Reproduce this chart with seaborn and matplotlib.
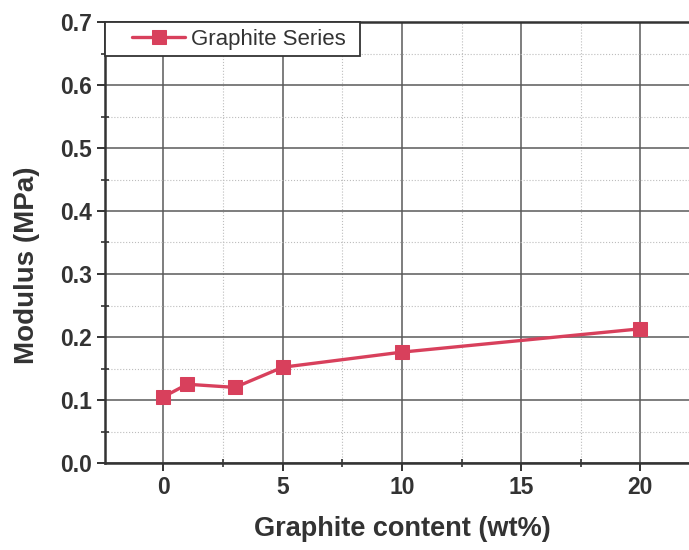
import matplotlib
matplotlib.use("Agg")
import matplotlib.pyplot as plt
from matplotlib.ticker import MultipleLocator
from matplotlib.patches import Rectangle
import seaborn as sns
import pandas as pd

# Measured modulus against graphite loading
graphite_wt = [0, 1, 3, 5, 10, 20]
modulus_mpa = [0.105, 0.125, 0.120, 0.152, 0.176, 0.213]
series_name = "Graphite Series"
y_tick_values = [0.0, 0.1, 0.2, 0.3, 0.4, 0.5, 0.6, 0.7]
y_tick_labels = ["0.0", "0.1", "0.2", "0.3", "0.4", "0.5", "0.6", "0.7"]

df = pd.DataFrame({"content": graphite_wt, "modulus": modulus_mpa})

sns.set_theme(style="white")
plt.rcParams["font.family"] = ["Liberation Sans", "DejaVu Sans"]

W, H = 689, 550
fig = plt.figure(figsize=(W / 100, H / 100), dpi=100)
# axes run slightly past the right edge of the canvas
ax_left, ax_right, ax_top, ax_bottom = 105, 700, 22, 463
ax = fig.add_axes([ax_left / W, 1 - ax_bottom / H,
                   (ax_right - ax_left) / W, (ax_bottom - ax_top) / H])

line_color = "#d8405c"
sns.lineplot(data=df, x="content", y="modulus", ax=ax, color=line_color,
             linewidth=2.4, marker="s", markersize=9.5, markeredgecolor=line_color,
             label=series_name, zorder=3)

ax.set_xlim(-2.45, 22.5)
ax.set_ylim(0.0, 0.7)
ax.xaxis.set_major_locator(MultipleLocator(5))
ax.xaxis.set_minor_locator(MultipleLocator(2.5))
ax.yaxis.set_minor_locator(MultipleLocator(0.05))
ax.set_yticks(y_tick_values)
ax.set_yticklabels(y_tick_labels)

ax.grid(which="major", color="#5a5a5a", linewidth=1.1, linestyle="-")
ax.grid(which="minor", color="#bdbdbd", linewidth=0.8, linestyle=":")
ax.set_axisbelow(True)

for s in ax.spines.values():
    s.set_color("#333333")
    s.set_linewidth(1.8)

ax.tick_params(which="major", direction="out", length=6, width=1.4, color="#333333",
               labelsize=16.5, labelcolor="#333333", left=True, bottom=True)
ax.tick_params(which="minor", direction="inout", length=6, width=1.2, color="#333333",
               left=True, bottom=True)
for lab in ax.get_xticklabels() + ax.get_yticklabels():
    lab.set_fontweight("bold")


def ax_x(px):
    return (px - ax_left) / (ax_right - ax_left)


def ax_y(py):
    return (ax_bottom - py) / (ax_bottom - ax_top)


ax.set_xlabel("Graphite content (wt%)", fontsize=19.5, fontweight="bold",
              color="#333333", labelpad=12)
ax.set_ylabel("Modulus (MPa)", fontsize=20, fontweight="bold",
              color="#333333")
ax.yaxis.set_label_coords(ax_x(40), ax_y(265))

# legend box anchored to the top-left corner of the axes
box = Rectangle((0, ax_y(56)), ax_x(360), 1 - ax_y(56), transform=ax.transAxes,
                facecolor="white", edgecolor="#333333", linewidth=1.3,
                zorder=4, clip_on=False)
ax.add_patch(box)

leg = ax.legend(loc="center left", bbox_to_anchor=(ax_x(132), ax_y(39)),
                frameon=False, fontsize=16, borderaxespad=0.0, borderpad=0.0,
                handlelength=2.4, handletextpad=0.25)
leg.set_zorder(5)
for t in leg.get_texts():
    t.set_color("#333333")

fig.savefig("out.png", dpi=100)
